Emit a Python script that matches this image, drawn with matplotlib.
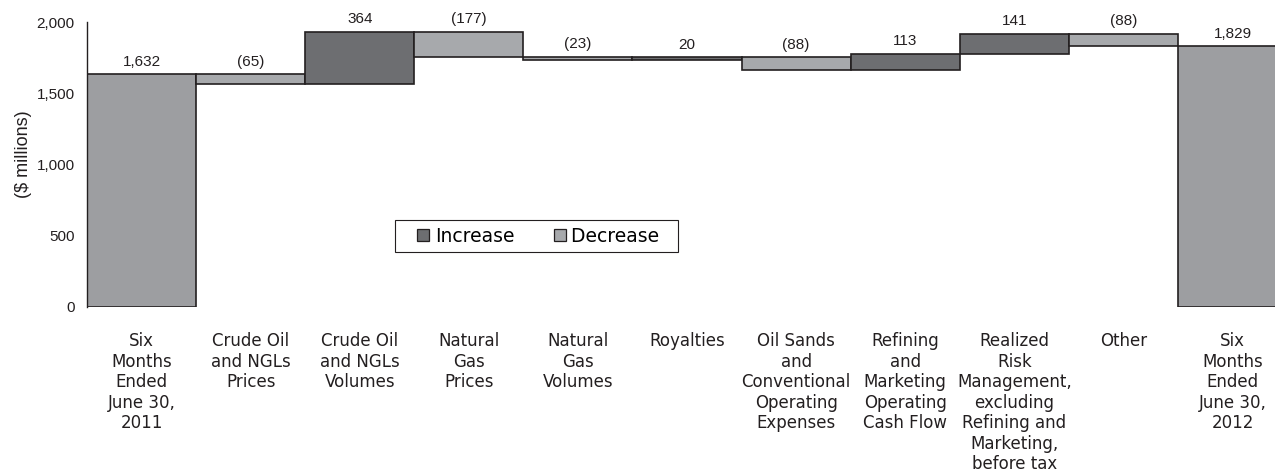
import matplotlib.pyplot as plt
from matplotlib.lines import Line2D
from matplotlib.ticker import FuncFormatter

categories = [
    "Six\nMonths\nEnded\nJune 30,\n2011",
    "Crude Oil\nand NGLs\nPrices",
    "Crude Oil\nand NGLs\nVolumes",
    "Natural\nGas\nPrices",
    "Natural\nGas\nVolumes",
    "Royalties",
    "Oil Sands\nand\nConventional\nOperating\nExpenses",
    "Refining\nand\nMarketing\nOperating\nCash Flow",
    "Realized\nRisk\nManagement,\nexcluding\nRefining and\nMarketing,\nbefore tax",
    "Other",
    "Six\nMonths\nEnded\nJune 30,\n2012",
]
start_total = 1632
changes = [-65, 364, -177, -23, 20, -88, 113, 141, -88]
end_total = 1829

c_up = "#6d6e71"
c_down = "#a7a9ac"
c_total = "#9d9ea1"
edge = "#231f20"

fig = plt.figure(figsize=(12.75, 4.72), dpi=100)
ax = fig.add_axes([87 / 1275, 1 - 307 / 472, 1 - 87 / 1275, 285 / 472])

num_font = "Liberation Sans"
txt_font = "DejaVu Sans"

# bars: (bottom, height, colour, label)
bars = [(0, start_total, c_total, f"{start_total:,}")]
running = start_total
for ch in changes:
    lo = min(running, running + ch)
    col = c_up if ch > 0 else c_down
    lab = f"{ch:,}" if ch > 0 else f"({-ch:,})"
    bars.append((lo, abs(ch), col, lab))
    running += ch
bars.append((0, end_total, c_total, f"{end_total:,}"))

for i, (b, h, col, lab) in enumerate(bars):
    ax.bar(i, h, bottom=b, width=1.0, color=col, edgecolor=edge, linewidth=1.2)
    ax.annotate(lab, (i, b + h), xytext=(0, 4), textcoords="offset points",
                ha="center", va="bottom", fontsize=11, family=num_font, color="#231f20")

ax.set_xlim(-0.5, 10.39)
ax.set_ylim(0, 2000)
ax.set_yticks([0, 500, 1000, 1500, 2000])
ax.yaxis.set_major_formatter(FuncFormatter(lambda v, p: f"{int(v):,}"))
ax.set_xticks(range(len(categories)))
ax.set_xticklabels(categories, fontsize=12, family=txt_font, color="#231f20",
                   linespacing=1.18)
for t in ax.get_yticklabels():
    t.set_family(num_font)
    t.set_fontsize(11)
    t.set_color("#231f20")
ax.tick_params(axis="x", length=0, pad=18)
ax.tick_params(axis="y", length=0, pad=9)

for s in ["top", "right", "bottom"]:
    ax.spines[s].set_visible(False)
ax.spines["left"].set_color(edge)
ax.spines["left"].set_linewidth(1.0)

ax.set_ylabel("($ millions)", fontsize=13, family=num_font, color="#231f20")
ax.yaxis.set_label_coords(-0.046, 0.535)

# square markers inside a wide handle area give the padded look of the key
handles = [Line2D([], [], ls="none", marker="s", markersize=8, markerfacecolor=c_up,
                  markeredgecolor=edge, markeredgewidth=0.9, label="Increase"),
           Line2D([], [], ls="none", marker="s", markersize=8, markerfacecolor=c_down,
                  markeredgecolor=edge, markeredgewidth=0.9, label="Decrease  ")]
leg = ax.legend(handles=handles, loc="center", bbox_to_anchor=(0.3785, 0.249), ncol=2,
                fancybox=False, framealpha=1, edgecolor=edge, handlelength=2.3,
                handletextpad=-0.55, columnspacing=1.3,
                prop={"family": txt_font, "size": 13.5}, borderpad=0.36)
leg.get_frame().set_linewidth(0.8)

fig.savefig("out.png", dpi=100)
